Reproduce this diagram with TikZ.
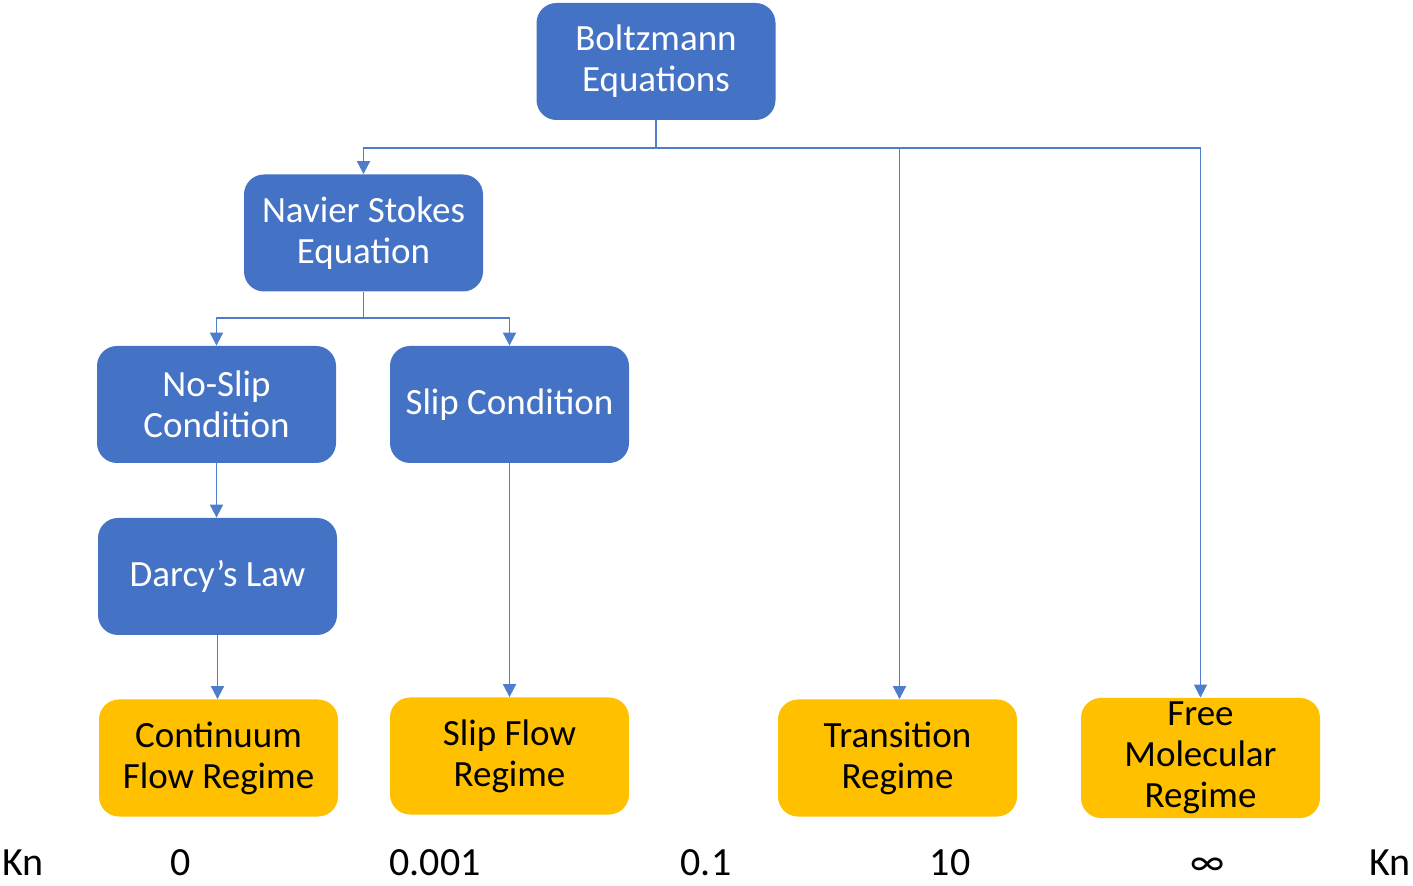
\documentclass[tikz,border=0pt]{standalone}
\usepackage{fontspec}
\setmainfont{Carlito}
\usetikzlibrary{arrows.meta}
\definecolor{boxblue}{HTML}{4472C4}
\definecolor{lineblue}{HTML}{4F7DCC}
\definecolor{boxyellow}{HTML}{FFC000}
\tikzset{
  base/.style={rounded corners=10pt, minimum width=119.5pt, minimum height=58.5pt,
    align=center, inner sep=2pt, font=\fontsize{18.5}{20.5}\selectfont},
  bluebox/.style={base, fill=boxblue, text=white},
  yellowbox/.style={base, fill=boxyellow, text=black},
  conn/.style={draw=lineblue, line width=0.9pt},
  arr/.style={conn, -{Triangle[width=6.5pt,length=6.5pt]}},
  knlabel/.style={font=\fontsize{20}{22}\selectfont, inner sep=0pt}
}
\begin{document}
\begin{tikzpicture}[x=0.5pt,y=-0.5pt]
\useasboundingbox (0,0) rectangle (1413,886);
\node[bluebox] (boltz) at (656,61.5) {Boltzmann\\Equations};
\node[bluebox] (navier) at (363.5,233) {Navier Stokes\\Equation};
\node[bluebox] (noslip) at (216.5,404.5) {No-Slip\\Condition};
\node[bluebox] (slipc) at (509.5,404.5) {Slip Condition};
\node[bluebox] (darcy) at (217.5,576.5) {Darcy’s Law};
\node[yellowbox] (cont) at (218.5,758) {Continuum\\Flow Regime};
\node[yellowbox] (slipf) at (509.5,756) {Slip Flow\\Regime};
\node[yellowbox] (trans) at (897.5,758) {Transition\\Regime};
\node[yellowbox] (free) at (1200.5,758) {Free\\Molecular\\Regime};

\coordinate (j1) at (656,148);
\coordinate (j2) at (363.5,318);

\draw[conn] (boltz.south) -- (j1);
\draw[arr] (j1) -| (navier.north);
\draw[arr] (j1) -| ([xshift=1pt]trans.north);
\draw[arr] (j1) -| (free.north);
\draw[conn] (navier.south) -- (j2);
\draw[arr] (j2) -| (noslip.north);
\draw[arr] (j2) -| (slipc.north);
\draw[arr] (noslip.south) -- (darcy.north -| noslip.south);
\draw[arr] (darcy.south) -- (cont.north -| darcy.south);
\draw[arr] (slipc.south) -- (slipf.north);

\node[knlabel, anchor=base west] (kn1) at (2,875) {Kn};
\node[knlabel, anchor=base] (k0) at (181,875) {0};
\node[knlabel, anchor=base] (k1) at (435,875) {0.001};
\node[knlabel, anchor=base] (k2) at (706,875) {0.1};
\node[knlabel, anchor=base] (k3) at (950,875) {10};
\node[knlabel, anchor=base] (k4) at (1208,875) {∞};
\node[knlabel, anchor=base east] (kn2) at (1411,875) {Kn};
\end{tikzpicture}
\end{document}
